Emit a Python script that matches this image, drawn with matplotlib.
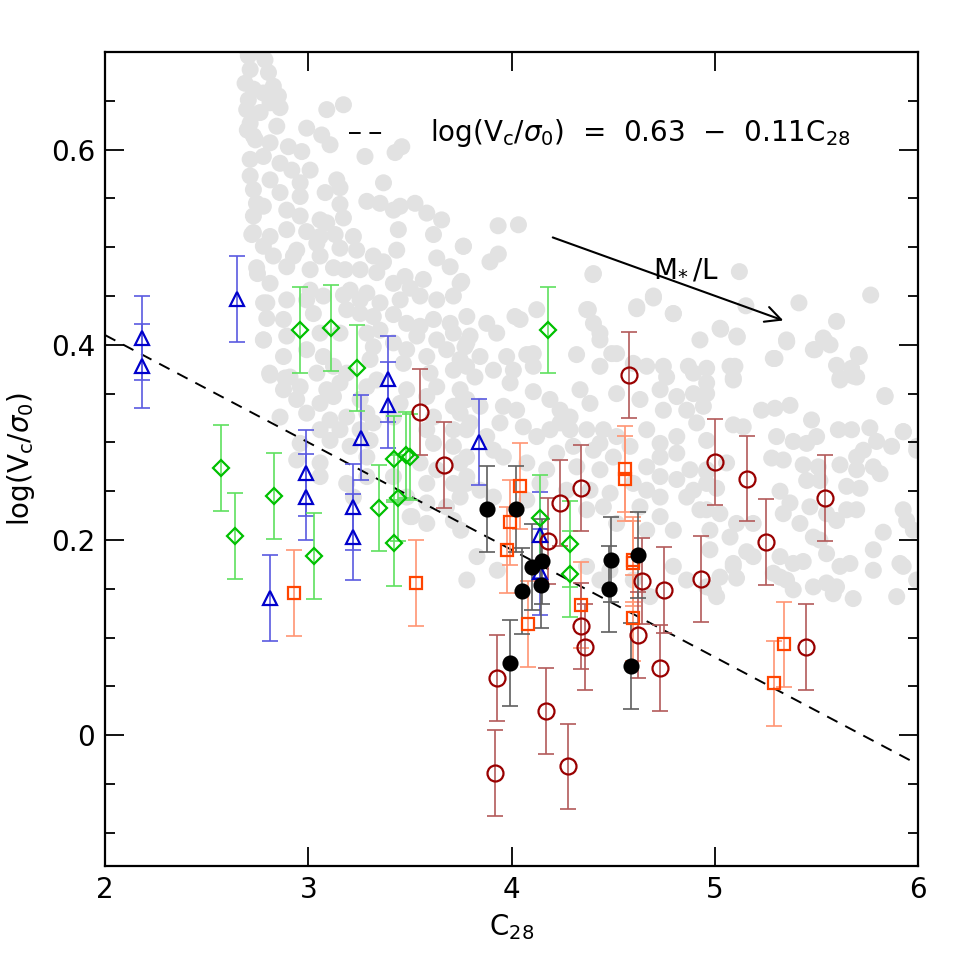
import matplotlib
matplotlib.use('Agg')
import matplotlib.pyplot as plt
from matplotlib.ticker import MultipleLocator, FuncFormatter, NullLocator
import numpy as np

# comparison sample (grey cloud), (C28, log Vc/sigma0)
field_pts = np.array([
    (2.705, 0.696), (2.787, 0.692), (2.714, 0.682), (2.804, 0.679), (2.689, 0.668), (2.828, 0.665),
    (2.730, 0.662), (2.779, 0.658), (2.853, 0.655), (2.705, 0.651), (2.812, 0.648), (2.697, 0.641),
    (2.861, 0.643), (2.763, 0.638), (3.091, 0.641), (3.173, 0.646), (2.714, 0.627), (2.845, 0.624),
    (2.992, 0.622), (3.066, 0.615), (3.107, 0.605), (2.730, 0.614), (2.812, 0.607), (2.902, 0.603),
    (2.968, 0.598), (3.279, 0.593), (3.427, 0.597), (3.460, 0.603), (2.714, 0.590), (2.779, 0.593),
    (2.861, 0.586), (3.009, 0.579), (2.919, 0.579), (2.714, 0.573), (2.812, 0.569), (2.960, 0.566),
    (3.140, 0.569), (3.156, 0.561), (3.083, 0.556), (3.370, 0.566), (2.730, 0.559), (2.861, 0.556),
    (2.960, 0.552), (3.288, 0.547), (3.353, 0.545), (3.419, 0.538), (3.452, 0.542), (3.525, 0.545),
    (3.583, 0.535), (3.656, 0.528), (3.156, 0.544), (3.173, 0.530), (2.779, 0.542), (2.894, 0.538),
    (2.730, 0.532), (2.960, 0.532), (3.058, 0.528), (3.091, 0.525), (3.443, 0.518), (3.616, 0.513),
    (2.722, 0.513), (2.812, 0.511), (2.894, 0.518), (2.992, 0.516), (3.058, 0.511), (3.132, 0.513),
    (3.222, 0.511), (2.779, 0.501), (2.943, 0.497), (3.042, 0.504), (3.156, 0.499), (3.238, 0.497),
    (3.435, 0.497), (3.763, 0.501), (2.828, 0.491), (2.927, 0.491), (3.058, 0.491), (3.320, 0.491),
    (3.370, 0.485), (3.632, 0.489), (3.698, 0.480), (2.746, 0.479), (2.894, 0.480), (3.009, 0.477),
    (3.124, 0.479), (3.181, 0.477), (3.255, 0.477), (3.337, 0.474), (3.476, 0.470), (3.566, 0.467),
    (3.747, 0.463), (2.812, 0.463), (3.419, 0.463), (3.501, 0.458), (3.206, 0.456), (3.288, 0.453),
    (3.009, 0.456), (2.730, 0.515), (2.750, 0.473), (2.780, 0.443), (2.780, 0.405), (2.810, 0.371),
    (2.886, 0.366), (2.690, 0.705), (2.760, 0.700), (2.740, 0.610), (2.745, 0.545), (2.700, 0.620),
    (2.796, 0.443), (2.894, 0.446), (2.992, 0.446), (3.074, 0.450), (3.173, 0.451), (3.255, 0.446),
    (3.353, 0.443), (3.452, 0.446), (3.550, 0.450), (3.632, 0.446), (3.714, 0.450), (2.796, 0.427),
    (2.878, 0.426), (3.025, 0.432), (3.189, 0.436), (3.255, 0.432), (3.320, 0.429), (3.419, 0.431),
    (3.484, 0.422), (3.550, 0.419), (3.616, 0.426), (3.698, 0.422), (3.780, 0.429), (2.779, 0.405),
    (2.894, 0.409), (3.058, 0.412), (3.156, 0.412), (3.288, 0.412), (3.353, 0.415), (3.534, 0.409),
    (3.632, 0.405), (3.714, 0.412), (3.780, 0.402), (2.878, 0.388), (2.992, 0.395), (3.074, 0.388),
    (3.320, 0.398), (3.419, 0.402), (3.484, 0.395), (3.583, 0.388), (3.681, 0.395), (3.747, 0.385),
    (2.812, 0.369), (2.910, 0.367), (3.042, 0.371), (3.124, 0.378), (3.189, 0.371), (3.304, 0.385),
    (3.468, 0.381), (3.599, 0.371), (3.714, 0.374), (2.878, 0.354), (2.960, 0.357), (3.091, 0.354),
    (3.156, 0.361), (3.288, 0.357), (3.337, 0.364), (3.484, 0.354), (3.632, 0.357), (3.747, 0.354),
    (2.943, 0.344), (3.058, 0.340), (3.124, 0.347), (3.255, 0.344), (3.452, 0.340), (3.583, 0.347),
    (3.714, 0.337), (3.780, 0.344), (2.861, 0.326), (2.992, 0.330), (3.107, 0.323), (3.189, 0.326),
    (3.288, 0.330), (3.419, 0.326), (3.616, 0.326), (3.747, 0.330), (3.058, 0.313), (3.156, 0.313),
    (3.255, 0.313), (3.320, 0.320), (3.583, 0.313), (3.714, 0.313), (3.796, 0.320), (2.960, 0.299),
    (3.107, 0.302), (3.206, 0.296), (3.304, 0.302), (3.616, 0.299), (3.714, 0.296), (2.943, 0.282),
    (3.058, 0.279), (3.288, 0.285), (3.419, 0.265), (3.550, 0.279), (3.632, 0.272), (3.747, 0.279),
    (3.058, 0.265), (3.189, 0.258), (3.288, 0.265), (3.583, 0.258), (3.714, 0.258), (3.780, 0.265),
    (3.222, 0.244), (3.484, 0.244), (3.583, 0.238), (3.747, 0.244), (3.501, 0.224), (3.583, 0.217),
    (3.714, 0.220), (3.680, 0.234), (3.510, 0.224), (3.750, 0.210), (3.780, 0.159), (3.930, 0.169),
    (3.830, 0.183),
    (3.934, 0.522), (3.763, 0.501), (3.935, 0.493), (3.894, 0.485), (4.403, 0.473), (3.755, 0.465),
    (4.698, 0.450), (4.034, 0.523), (4.400, 0.472), (4.616, 0.437), (4.796, 0.432), (5.026, 0.417),
    (5.108, 0.409), (5.354, 0.403), (5.296, 0.386), (4.017, 0.429), (4.378, 0.436), (4.320, 0.390),
    (4.435, 0.405), (4.493, 0.391), (4.075, 0.390), (4.927, 0.405), (4.870, 0.378), (5.075, 0.378),
    (4.763, 0.367),
    (4.124, 0.436), (4.042, 0.426), (3.878, 0.422), (3.796, 0.409), (3.927, 0.412), (3.771, 0.398),
    (3.845, 0.388), (3.976, 0.388), (4.107, 0.391), (3.911, 0.374), (3.779, 0.378), (4.009, 0.374),
    (4.107, 0.378), (3.820, 0.367), (3.993, 0.361), (4.107, 0.352), (4.189, 0.344), (4.239, 0.333),
    (4.337, 0.354), (4.386, 0.340), (4.288, 0.326), (4.370, 0.436), (4.403, 0.422), (4.435, 0.412),
    (4.616, 0.439), (4.698, 0.448), (4.796, 0.432), (4.517, 0.391), (4.435, 0.378), (4.599, 0.381),
    (4.665, 0.378), (4.747, 0.378), (4.895, 0.371), (4.960, 0.361), (4.517, 0.350), (4.632, 0.344),
    (4.731, 0.354), (4.813, 0.347), (4.895, 0.350), (4.747, 0.333), (4.862, 0.333), (4.944, 0.337),
    (3.763, 0.344), (3.845, 0.337), (3.960, 0.337), (4.025, 0.333), (3.943, 0.320), (4.058, 0.316),
    (4.124, 0.306), (3.878, 0.306), (3.779, 0.313), (3.911, 0.292), (4.189, 0.313), (4.239, 0.320),
    (4.288, 0.313), (4.370, 0.313), (4.452, 0.313), (4.517, 0.306), (4.435, 0.299), (4.665, 0.313),
    (4.731, 0.299), (4.813, 0.306), (4.911, 0.320), (4.960, 0.302), (4.583, 0.296), (3.779, 0.285),
    (3.960, 0.285), (4.222, 0.289), (4.304, 0.296), (4.403, 0.292), (4.501, 0.285), (4.731, 0.285),
    (4.813, 0.289), (4.878, 0.272), (4.960, 0.272), (4.075, 0.279), (4.173, 0.272), (4.321, 0.275),
    (4.435, 0.272), (4.665, 0.275), (4.731, 0.265), (4.813, 0.262), (3.779, 0.258), (3.845, 0.251),
    (4.140, 0.258), (4.271, 0.251), (4.386, 0.251), (4.485, 0.248), (4.599, 0.258), (4.665, 0.251),
    (4.731, 0.244), (4.895, 0.251), (3.911, 0.244), (4.075, 0.241), (4.370, 0.231), (4.452, 0.234),
    (4.632, 0.234), (4.731, 0.224), (4.862, 0.244), (4.927, 0.231), (4.517, 0.217), (4.665, 0.210),
    (4.796, 0.210),
    (5.121, 0.475), (5.153, 0.440), (5.029, 0.416), (5.111, 0.408), (5.414, 0.443), (5.767, 0.451),
    (5.599, 0.424), (5.353, 0.405), (5.288, 0.386), (5.493, 0.395), (5.542, 0.404), (5.567, 0.400),
    (5.711, 0.388), (5.599, 0.379), (5.673, 0.376), (4.960, 0.376), (5.099, 0.378), (5.091, 0.366),
    (5.616, 0.366), (5.698, 0.367), (5.534, 0.407), (5.485, 0.395), (5.706, 0.390), (5.838, 0.347),
    (5.928, 0.311), (5.995, 0.296),
    (5.091, 0.364), (5.616, 0.364), (5.681, 0.368), (5.837, 0.348), (4.960, 0.350), (5.230, 0.333),
    (5.296, 0.335), (5.370, 0.338), (5.476, 0.323), (5.091, 0.318), (5.140, 0.316), (5.304, 0.306),
    (5.386, 0.301), (5.452, 0.299), (5.501, 0.306), (5.608, 0.313), (5.673, 0.313), (5.763, 0.315),
    (5.927, 0.311), (5.796, 0.301), (5.870, 0.296), (5.993, 0.292), (5.731, 0.292), (5.698, 0.285),
    (5.280, 0.284), (5.337, 0.282), (5.435, 0.277), (5.509, 0.275), (5.616, 0.277), (5.780, 0.275),
    (5.698, 0.272), (5.813, 0.268), (5.452, 0.261), (5.517, 0.261), (5.649, 0.255), (5.714, 0.253),
    (4.960, 0.270), (5.058, 0.279), (4.960, 0.258), (5.009, 0.253), (5.321, 0.250), (5.370, 0.238),
    (5.337, 0.227), (5.468, 0.234), (5.419, 0.217), (5.550, 0.227), (5.599, 0.220), (5.649, 0.231),
    (5.698, 0.231), (5.927, 0.231), (5.944, 0.220), (5.977, 0.210), (5.829, 0.208), (4.960, 0.231),
    (5.025, 0.227), (5.107, 0.217), (5.189, 0.217), (4.976, 0.210), (5.075, 0.203), (4.976, 0.190),
    (5.157, 0.188), (5.091, 0.176), (5.321, 0.183), (5.386, 0.176), (5.435, 0.178), (5.485, 0.203),
    (5.517, 0.200), (5.550, 0.186), (5.616, 0.173), (5.665, 0.176), (5.780, 0.190), (5.780, 0.169),
    (5.911, 0.176), (5.025, 0.162), (5.107, 0.161), (4.993, 0.149), (5.321, 0.162), (5.485, 0.152),
    (5.550, 0.156), (5.599, 0.152), (5.681, 0.140), (5.895, 0.142),
    (4.369, 0.173), (4.435, 0.159), (4.484, 0.169), (4.599, 0.159), (4.681, 0.142), (4.796, 0.173),
    (4.861, 0.159), (4.960, 0.152), (5.009, 0.142), (5.091, 0.173), (5.189, 0.183), (5.288, 0.166),
    (5.353, 0.159), (5.386, 0.149), (5.583, 0.145), (5.927, 0.173), (5.993, 0.159),
])

# blue triangles
tri_x = [2.18, 2.18, 2.65, 2.81, 2.99, 2.99, 3.22, 3.22, 3.26, 3.39, 3.39, 3.84, 4.14, 4.14]
tri_y = [0.407, 0.378, 0.447, 0.141, 0.269, 0.244, 0.234, 0.203, 0.305, 0.365, 0.338, 0.300, 0.205, 0.167]
tri_err = [0.043, 0.043, 0.044, 0.044, 0.044, 0.044, 0.044, 0.044, 0.044, 0.044, 0.044, 0.044, 0.044, 0.044]

# green diamonds
dia_x = [2.57, 2.64, 2.83, 2.96, 3.03, 3.11, 3.24, 3.35, 3.42, 3.44, 3.42, 3.48, 3.50, 4.14, 4.18, 4.29, 4.29]
dia_y = [0.274, 0.204, 0.245, 0.415, 0.184, 0.417, 0.376, 0.233, 0.283, 0.243, 0.197, 0.287, 0.285,
         0.223, 0.415, 0.196, 0.165]
dia_err = [0.044, 0.044, 0.044, 0.044, 0.044, 0.044, 0.044, 0.044, 0.044, 0.044, 0.044, 0.044, 0.044,
           0.044, 0.044, 0.044, 0.044]

# orange squares
sq_x = [2.93, 3.53, 3.98, 3.99, 4.04, 4.08, 4.34, 4.56, 4.56, 4.60, 4.60, 4.60, 5.29, 5.34]
sq_y = [0.146, 0.156, 0.190, 0.218, 0.255, 0.114, 0.133, 0.273, 0.263, 0.180, 0.176, 0.120, 0.053, 0.093]
sq_err = [0.044, 0.044, 0.044, 0.044, 0.044, 0.044, 0.044, 0.044, 0.044, 0.044, 0.044, 0.044, 0.044, 0.044]

# dark red open circles
circ_x = [3.55, 3.67, 3.92, 3.93, 4.17, 4.18, 4.24, 4.28, 4.34, 4.34, 4.36, 4.58, 4.62, 4.64, 4.73,
          4.75, 4.93, 5.00, 5.16, 5.25, 5.45, 5.54]
circ_y = [0.331, 0.277, -0.039, 0.059, 0.025, 0.199, 0.238, -0.032, 0.253, 0.112, 0.090, 0.369, 0.103,
          0.158, 0.069, 0.149, 0.160, 0.280, 0.263, 0.198, 0.090, 0.243]
circ_err = [0.044, 0.044, 0.044, 0.044, 0.044, 0.044, 0.044, 0.044, 0.044, 0.044, 0.044, 0.044, 0.044,
            0.044, 0.044, 0.044, 0.044, 0.044, 0.044, 0.044, 0.044, 0.044]

# black filled circles
dot_x = [3.88, 4.02, 3.99, 4.05, 4.10, 4.15, 4.145, 4.49, 4.48, 4.62, 4.59]
dot_y = [0.232, 0.232, 0.074, 0.148, 0.172, 0.178, 0.154, 0.180, 0.150, 0.185, 0.071]
dot_err = [0.044, 0.044, 0.044, 0.044, 0.044, 0.044, 0.044, 0.044, 0.044, 0.044, 0.044]

# fit: log(Vc/sigma0) = 0.63 - 0.11 C28
fit_a, fit_b = 0.63, -0.11

plt.rcParams['font.family'] = ['DejaVu Sans']
plt.rcParams['mathtext.fontset'] = 'dejavusans'

fig = plt.figure(figsize=(9.69, 9.69), dpi=100)
ax = fig.add_axes([0.1084, 0.1063, 0.8390, 0.8400])

ax.scatter(field_pts[:, 0], field_pts[:, 1], s=150, color='#e2e2e2', edgecolors='none', zorder=1)

xx = np.array([2.0, 6.0])
ax.plot(xx, fit_a + fit_b * xx, color='black', lw=1.4, dashes=(6, 4.5), zorder=2)


def err_series(x, y, e, marker, color, barcolor, ms, filled=False):
    ax.errorbar(x, y, yerr=e, fmt='none', ecolor=barcolor, elinewidth=1.2, capsize=5.5,
                capthick=1.2, zorder=3)
    ax.plot(x, y, linestyle='none', marker=marker, ms=ms, mew=1.6, mec=color,
            mfc=color if filled else 'none', zorder=4)


err_series(tri_x, tri_y, tri_err, '^', '#0000cc', '#5a5ae0', 9.5)
err_series(dia_x, dia_y, dia_err, 'D', '#00c000', '#5fe05f', 8.5)
err_series(sq_x, sq_y, sq_err, 's', '#ff4400', '#ff9573', 8)
err_series(circ_x, circ_y, circ_err, 'o', '#990000', '#b35a5a', 11.5)
err_series(dot_x, dot_y, dot_err, 'o', 'black', '#5f5f5f', 10, filled=True)

# legend for the fit line
ax.plot([3.20, 3.38], [0.617, 0.617], color='black', lw=1.4, dashes=(6, 4.5))
ax.text(3.60, 0.617, r'log(V$_{\rm c}$/$\sigma_0$)  =  0.63  $-$  0.11C$_{28}$',
        fontsize=20, va='center', ha='left')

# M*/L arrow
ax.annotate('', xy=(5.35, 0.424), xytext=(4.19, 0.511),
            arrowprops=dict(arrowstyle='->', lw=1.5, color='black', mutation_scale=28))
ax.text(4.86, 0.477, r'M$_{\!*}$/L', fontsize=20, ha='center', va='center')

ax.set_xlim(2, 6)
ax.set_ylim(-0.134, 0.70)
ax.xaxis.set_major_locator(MultipleLocator(1))
ax.xaxis.set_minor_locator(NullLocator())
ax.yaxis.set_major_locator(MultipleLocator(0.2))
ax.yaxis.set_minor_locator(MultipleLocator(0.05))
ax.yaxis.set_major_formatter(FuncFormatter(lambda v, p: '0' if abs(v) < 1e-9 else f'{v:g}'))

ax.tick_params(which='both', direction='in', top=True, right=True, width=1.3, labelsize=20)
ax.tick_params(which='major', length=14, pad=7)
ax.tick_params(which='minor', length=7)
for sp in ax.spines.values():
    sp.set_linewidth(1.6)

ax.set_xlabel(r'C$_{28}$', fontsize=20, labelpad=6)
ax.set_ylabel(r'log(V$_{\rm c}$/$\sigma_0$)', fontsize=20, labelpad=10)

fig.savefig('out.png', dpi=100)
